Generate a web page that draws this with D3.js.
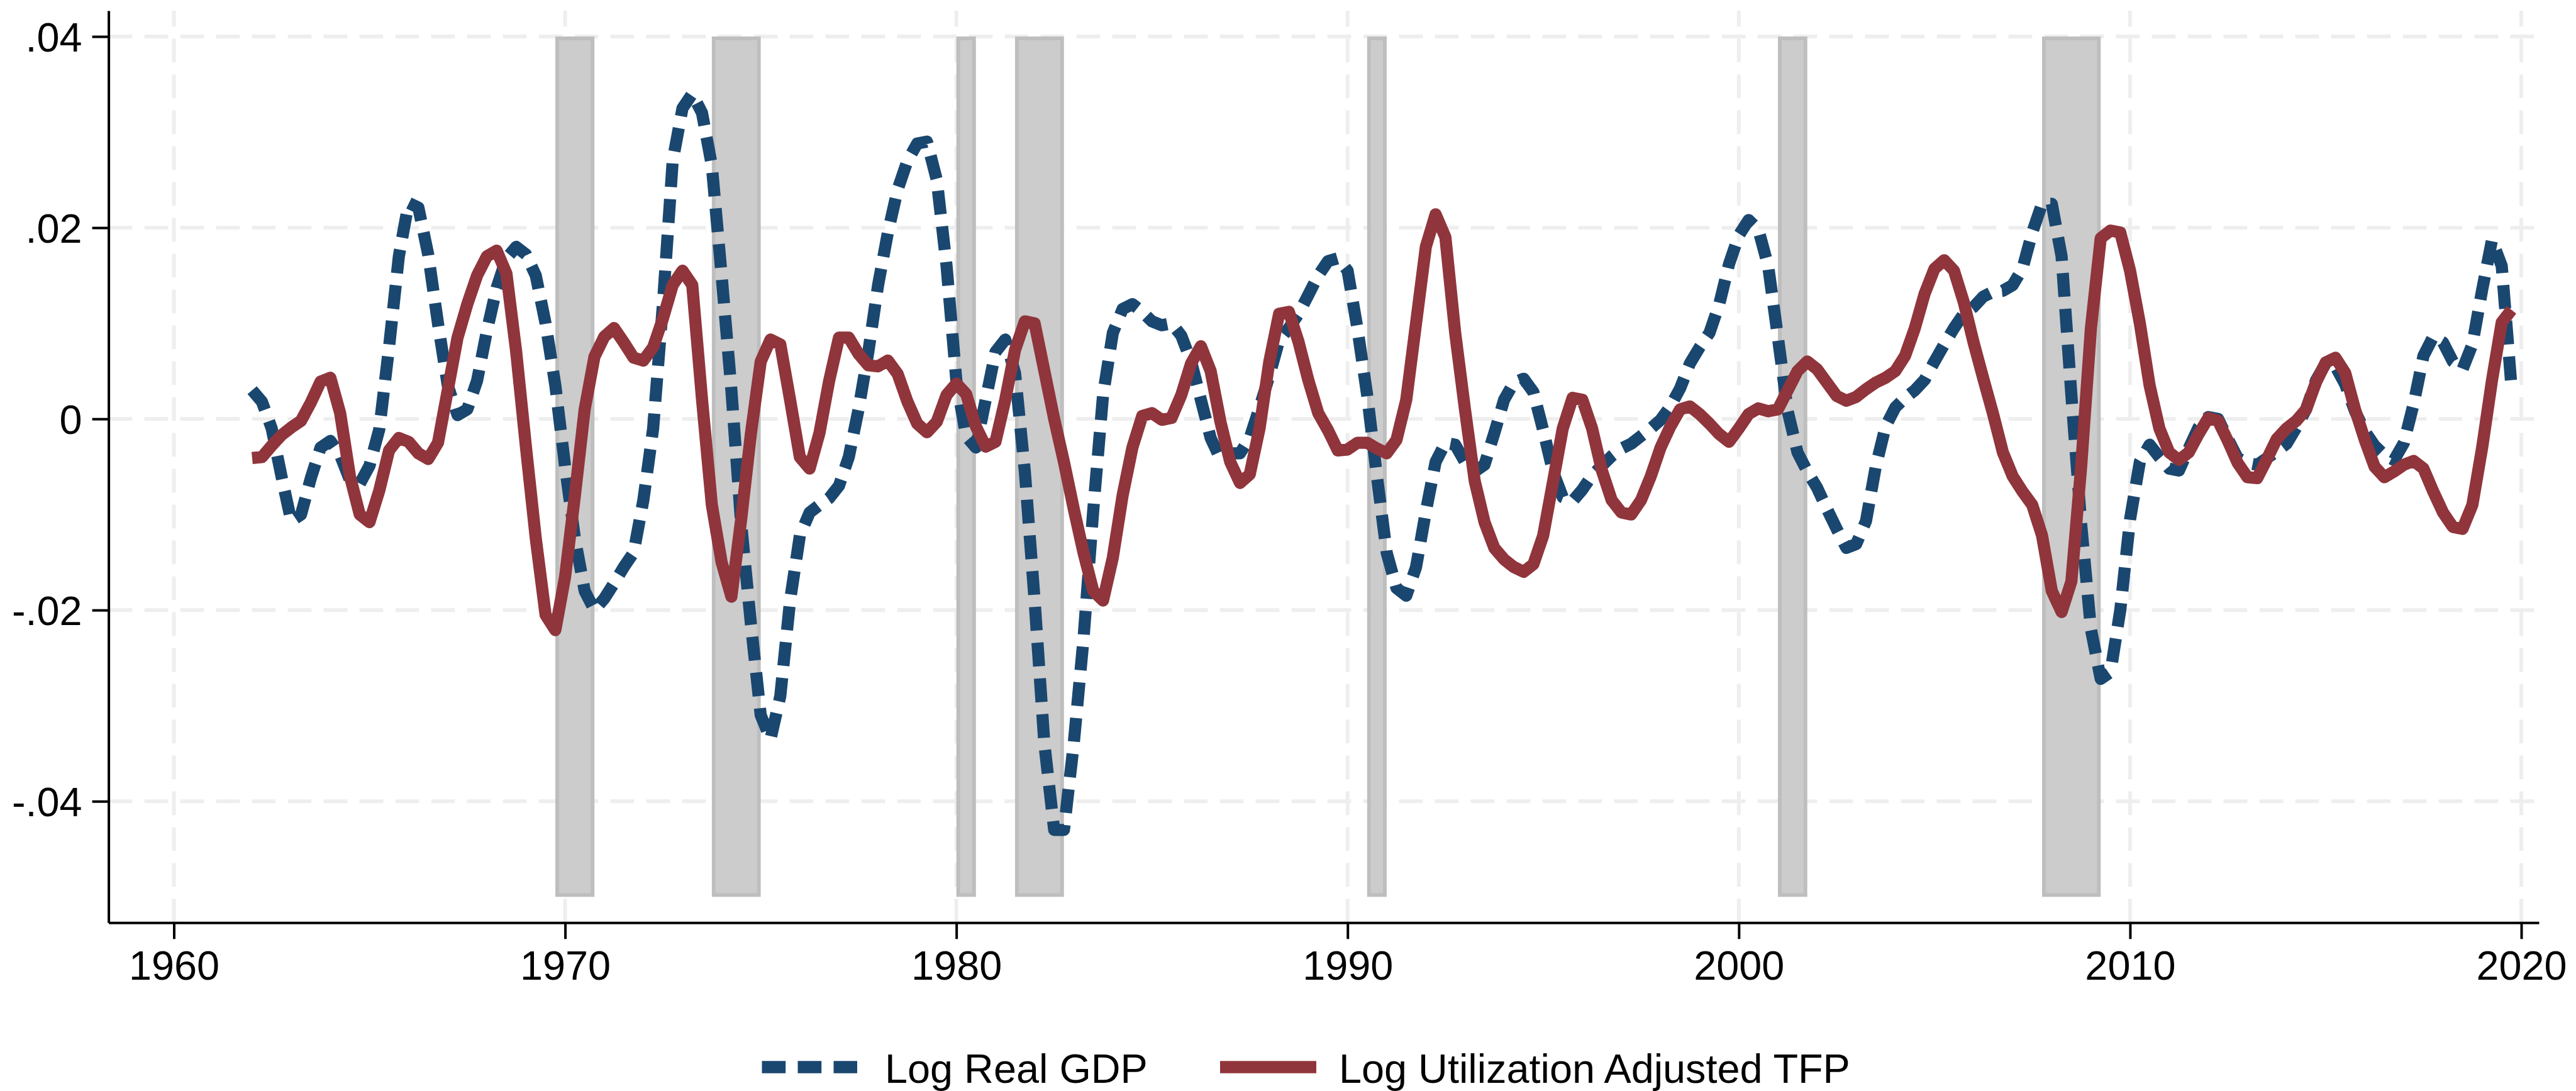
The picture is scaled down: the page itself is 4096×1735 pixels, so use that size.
<!DOCTYPE html>
<html>
<head>
<meta charset="utf-8">
<script src="https://cdn.jsdelivr.net/npm/d3@7"></script>
<style>
  html, body { margin: 0; padding: 0; background: #ffffff; }
  svg { display: block; }
</style>
</head>
<body>
<svg id="chart" width="4096" height="1735"></svg>
<script>
// Quarterly cyclical components, 1962Q1 - 2019Q4 (one row per year)
const startYear = 1962;

const gdp = [
  0.0030, 0.0018, -0.0010, -0.0060,
  -0.0107, -0.0100, -0.0062, -0.0030,
  -0.0023, -0.0038, -0.0064, -0.0068,
  -0.0049, -0.0011, 0.0075, 0.0170,
  0.0226, 0.0221, 0.0172, 0.0100,
  0.0035, 0.0004, 0.0010, 0.0040,
  0.0092, 0.0137, 0.0168, 0.0180,
  0.0172, 0.0150, 0.0100, 0.0035,
  -0.0050, -0.0125, -0.0180, -0.0200,
  -0.0188, -0.0172, -0.0155, -0.0140,
  -0.0085, -0.0010, 0.0120, 0.0270,
  0.0325, 0.0340, 0.0320, 0.0265,
  0.0150, 0.0030, -0.0110, -0.0215,
  -0.0310, -0.0335, -0.0290, -0.0190,
  -0.0122, -0.0098, -0.0090, -0.0083,
  -0.0070, -0.0040, 0.0010, 0.0070,
  0.0140, 0.0195, 0.0240, 0.0270,
  0.0288, 0.0290, 0.0250, 0.0160,
  0.0040, -0.0018, -0.0030, 0.0020,
  0.0070, 0.0083, 0.0048, -0.0055,
  -0.0190, -0.0340, -0.0430, -0.0430,
  -0.0340, -0.0230, -0.0095, 0.0025,
  0.0090, 0.0115, 0.0120, 0.0112,
  0.0102, 0.0098, 0.0100, 0.0087,
  0.0060, 0.0020, -0.0020, -0.0042,
  -0.0036, -0.0036, -0.0020, 0.0012,
  0.0045, 0.0082, 0.0095, 0.0110,
  0.0130, 0.0150, 0.0165, 0.0168,
  0.0155, 0.0095, 0.0025, -0.0060,
  -0.0140, -0.0177, -0.0185, -0.0155,
  -0.0097, -0.0045, -0.0025, -0.0027,
  -0.0045, -0.0055, -0.0048, -0.0015,
  0.0020, 0.0038, 0.0042, 0.0028,
  -0.0012, -0.0055, -0.0082, -0.0086,
  -0.0074, -0.0059, -0.0049, -0.0039,
  -0.0031, -0.0026, -0.0018, -0.0010,
  -0.0001, 0.0013, 0.0032, 0.0058,
  0.0075, 0.0090, 0.0120, 0.0162,
  0.0192, 0.0208, 0.0198, 0.0160,
  0.0085, 0.0008, -0.0035, -0.0055,
  -0.0072, -0.0094, -0.0115, -0.0135,
  -0.0131, -0.0107, -0.0050, -0.0008,
  0.0012, 0.0022, 0.0030, 0.0041,
  0.0060, 0.0078, 0.0095, 0.0110,
  0.0117, 0.0128, 0.0133, 0.0134,
  0.0140, 0.0157, 0.0195, 0.0225,
  0.0225, 0.0170, 0.0025, -0.0110,
  -0.0220, -0.0272, -0.0265, -0.0200,
  -0.0105, -0.0045, -0.0027, -0.0040,
  -0.0052, -0.0054, -0.0031, -0.0009,
  0.0002, 0.0000, -0.0021, -0.0041,
  -0.0046, -0.0048, -0.0041, -0.0034,
  -0.0026, -0.0009, 0.0010, 0.0040,
  0.0058, 0.0055, 0.0036, 0.0008,
  -0.0013, -0.0028, -0.0038, -0.0043,
  -0.0025, 0.0016, 0.0066, 0.0086,
  0.0080, 0.0060, 0.0052, 0.0078,
  0.0135, 0.0187, 0.0160, 0.0033
];

const tfp = [
  -0.0041, -0.0040, -0.0028, -0.0017,
  -0.0009, -0.0002, 0.0017, 0.0039,
  0.0043, 0.0006, -0.0060, -0.0100,
  -0.0108, -0.0075, -0.0033, -0.0020,
  -0.0024, -0.0036, -0.0042, -0.0025,
  0.0030, 0.0085, 0.0120, 0.0150,
  0.0170, 0.0176, 0.0152, 0.0070,
  -0.0030, -0.0125, -0.0205, -0.0221,
  -0.0165, -0.0080, 0.0010, 0.0065,
  0.0086, 0.0095, 0.0080, 0.0064,
  0.0061, 0.0075, 0.0105, 0.0140,
  0.0155, 0.0140, 0.0020, -0.0090,
  -0.0150, -0.0186, -0.0105, -0.0015,
  0.0060, 0.0083, 0.0078, 0.0020,
  -0.0040, -0.0052, -0.0015, 0.0040,
  0.0085, 0.0085, 0.0068, 0.0056,
  0.0055, 0.0061, 0.0047, 0.0018,
  -0.0005, -0.0014, -0.0003, 0.0025,
  0.0037, 0.0026, -0.0008, -0.0029,
  -0.0024, 0.0020, 0.0072, 0.0102,
  0.0100, 0.0050, 0.0000, -0.0045,
  -0.0094, -0.0140, -0.0180, -0.0190,
  -0.0145, -0.0080, -0.0030, 0.0003,
  0.0006, -0.0001, 0.0001, 0.0025,
  0.0058, 0.0076, 0.0050, -0.0003,
  -0.0045, -0.0067, -0.0058, -0.0010,
  0.0060, 0.0110, 0.0112, 0.0080,
  0.0040, 0.0006, -0.0012, -0.0033,
  -0.0032, -0.0025, -0.0025, -0.0031,
  -0.0036, -0.0022, 0.0020, 0.0100,
  0.0180, 0.0214, 0.0190, 0.0090,
  0.0010, -0.0065, -0.0108, -0.0135,
  -0.0147, -0.0155, -0.0160, -0.0152,
  -0.0122, -0.0066, -0.0010, 0.0022,
  0.0020, -0.0010, -0.0054, -0.0085,
  -0.0098, -0.0100, -0.0085, -0.0060,
  -0.0030, -0.0008, 0.0010, 0.0013,
  0.0005, -0.0005, -0.0016, -0.0024,
  -0.0010, 0.0005, 0.0011, 0.0008,
  0.0010, 0.0030, 0.0050, 0.0060,
  0.0052, 0.0038, 0.0024, 0.0019,
  0.0023, 0.0031, 0.0038, 0.0043,
  0.0050, 0.0066, 0.0095, 0.0131,
  0.0157, 0.0166, 0.0155, 0.0122,
  0.0080, 0.0042, 0.0005, -0.0035,
  -0.0060, -0.0076, -0.0090, -0.0122,
  -0.0180, -0.0202, -0.0170, -0.0050,
  0.0095, 0.0189, 0.0197, 0.0195,
  0.0155, 0.0100, 0.0035, -0.0010,
  -0.0035, -0.0043, -0.0035, -0.0016,
  0.0001, -0.0002, -0.0023, -0.0046,
  -0.0061, -0.0062, -0.0042, -0.0021,
  -0.0010, -0.0002, 0.0010, 0.0038,
  0.0059, 0.0064, 0.0048, 0.0010,
  -0.0022, -0.0050, -0.0061, -0.0055,
  -0.0048, -0.0044, -0.0052, -0.0076,
  -0.0098, -0.0113, -0.0115, -0.0090,
  -0.0030, 0.0040, 0.0101, 0.0114
];

// NBER recessions: peak quarter to trough quarter
const recessionStart = [1969.75, 1973.75, 1980.0, 1981.5, 1990.5, 2001.0, 2007.75];
const recessionEnd   = [1970.75, 1975.0, 1980.5, 1982.75, 1991.0, 2001.75, 2009.25];

const xTicks = [1960, 1970, 1980, 1990, 2000, 2010, 2020];
const yTicks = [-0.04, -0.02, 0, 0.02, 0.04];
const yTickLabels = ["-.04", "-.02", "0", ".02", ".04"];
const seriesNames = ["Log Real GDP", "Log Utilization Adjusted TFP"];

const quarters = gdp.map((_, i) => startYear + i / 4);

// ---- layout ----
const FONT = "'Liberation Sans', Arial, Helvetica, sans-serif";
const fontSize = 64.8;
const plot = { left: 172.6, right: 4037, top: 17, bottom: 1467.3 };
const navy = "#1a476f", maroon = "#90353b";
const lineW = 19.3;
const dash = "37.7,19.3";

const svg = d3.select("#chart");

const x = d3.scaleLinear().domain([1958.33, 2020.45]).range([plot.left, plot.right]);
const y = d3.scaleLinear().domain([-0.0527, 0.0427]).range([plot.bottom, plot.top]);

// grid
const grid = svg.append("g").attr("fill", "none")
  .attr("stroke", "#eeeeee").attr("stroke-width", 5.9).attr("stroke-dasharray", dash);
grid.selectAll("line.h").data(yTicks).join("line").attr("class", "h")
  .attr("x1", plot.left).attr("x2", plot.right)
  .attr("y1", d => y(d)).attr("y2", d => y(d));
grid.selectAll("line.v").data(xTicks).join("line").attr("class", "v")
  .attr("x1", d => x(d)).attr("x2", d => x(d))
  .attr("y1", plot.bottom).attr("y2", plot.top);

// recession shading
const bw = 5.9;
svg.append("g").selectAll("rect").data(recessionStart).join("rect")
  .attr("x", d => x(d) + bw / 2)
  .attr("y", y(0.04) + bw / 2)
  .attr("width", (d, i) => x(recessionEnd[i]) - x(d) - bw)
  .attr("height", y(-0.05) - y(0.04) - bw)
  .attr("fill", "#cccccc").attr("stroke", "#bebebe").attr("stroke-width", bw);

// series
const line = d3.line().x((d, i) => x(quarters[i])).y(d => y(d));

svg.append("path").datum(gdp)
  .attr("d", line).attr("fill", "none")
  .attr("stroke", navy).attr("stroke-width", lineW)
  .attr("stroke-dasharray", dash).attr("stroke-linejoin", "round").attr("stroke-linecap", "butt");

svg.append("path").datum(tfp)
  .attr("d", line).attr("fill", "none")
  .attr("stroke", maroon).attr("stroke-width", lineW)
  .attr("stroke-linejoin", "round").attr("stroke-linecap", "butt");

// axes
const yAxis = d3.axisLeft(y).tickValues(yTicks)
  .tickFormat((d, i) => yTickLabels[i]).tickSize(26).tickSizeOuter(0).tickPadding(16);
const xAxis = d3.axisBottom(x).tickValues(xTicks)
  .tickFormat(d3.format("d")).tickSize(26).tickSizeOuter(0).tickPadding(18.7);

const gy = svg.append("g").attr("transform", `translate(${plot.left},0)`).call(yAxis);
const gx = svg.append("g").attr("transform", `translate(0,${plot.bottom})`).call(xAxis);

[gx, gy].forEach(g => {
  g.select(".domain").attr("stroke", "#000").attr("stroke-width", 4);
  g.selectAll(".tick line").attr("stroke", "#000").attr("stroke-width", 4);
  g.selectAll(".tick text").attr("fill", "#000")
    .style("font-family", FONT).style("font-size", fontSize + "px");
});
gy.selectAll(".tick text").attr("dy", "0.36em");

// legend
const legendY = 1697;
const legend = svg.append("g");
const legendItems = [
  { name: seriesNames[0], color: navy, dashed: true, x0: 1211.5, x1: 1363, tx: 1407 },
  { name: seriesNames[1], color: maroon, dashed: false, x0: 1940, x1: 2093, tx: 2129 }
];
legendItems.forEach(it => {
  legend.append("line")
    .attr("x1", it.x0).attr("x2", it.x1).attr("y1", legendY).attr("y2", legendY)
    .attr("stroke", it.color).attr("stroke-width", lineW)
    .attr("stroke-dasharray", it.dashed ? dash : null);
  legend.append("text")
    .attr("x", it.tx).attr("y", legendY + 25)
    .style("font-family", FONT).style("font-size", fontSize + "px")
    .attr("fill", "#000").text(it.name);
});
</script>
</body>
</html>
